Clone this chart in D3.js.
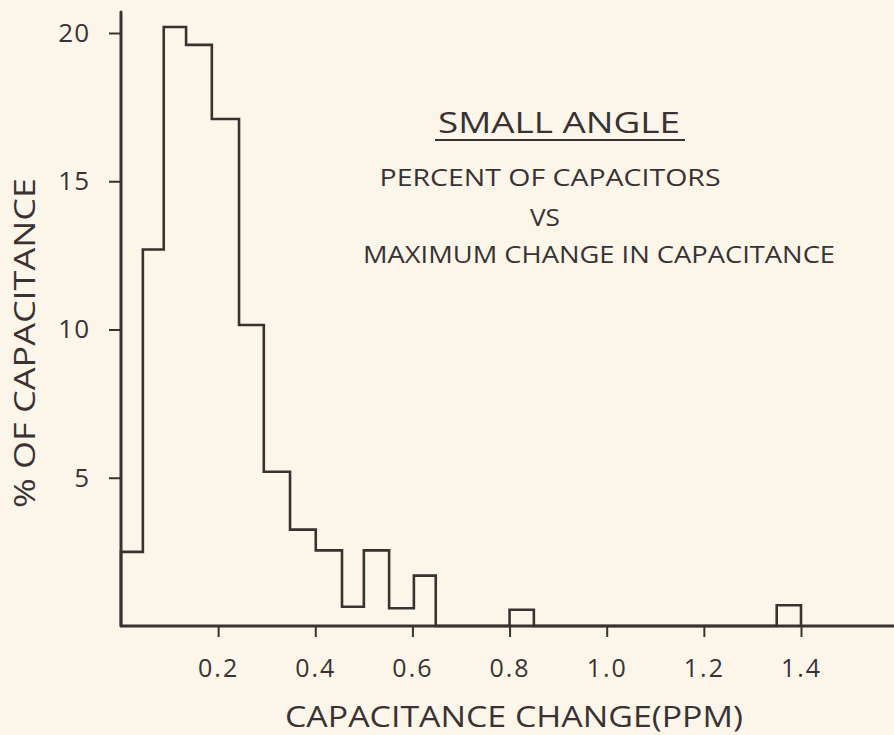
<!DOCTYPE html>
<html>
<head>
<meta charset="utf-8">
<script src="https://cdn.jsdelivr.net/npm/d3@7"></script>
<style>
  html, body { margin: 0; padding: 0; background: #fcf6ea; }
  svg { display: block; }
  text { font-family: "Open Sans", "DejaVu Sans", sans-serif; font-weight: 400; fill: #3a3232; }
</style>
</head>
<body>
<svg id="chart" width="894" height="735"></svg>
<script>
// Histogram bin boundaries (ppm) and the percent of capacitors in each bin
const binEdges = [0, 0.045, 0.088, 0.134, 0.187, 0.243, 0.294, 0.348, 0.401, 0.455,
                  0.5, 0.552, 0.603, 0.648, 0.8, 0.85, 1.35, 1.4];
const percents = [2.5, 12.7, 20.2, 19.6, 17.1, 10.15, 5.2, 3.25, 2.55, 0.65,
                  2.55, 0.6, 1.7, 0, 0.55, 0, 0.7];

const xTicks = [0.2, 0.4, 0.6, 0.8, 1.0, 1.2, 1.4];
const xTickLabels = ["0.2", "0.4", "0.6", "0.8", "1.0", "1.2", "1.4"];
const yTicks = [5, 10, 15, 20];
const yTickLabels = ["5", "10", "15", "20"];

const titleLines = ["PERCENT OF CAPACITORS", "VS", "MAXIMUM CHANGE IN CAPACITANCE"];

const ink = "#3a3131";
const svg = d3.select("#chart");

const x = d3.scaleLinear().domain([0, 1.4]).range([121, 801]);
const y = d3.scaleLinear().domain([0, 20]).range([626, 33]);
const xMax = x.invert(894);
const yMax = y.invert(12);

// x axis
const xAxis = d3.axisBottom(x)
  .tickValues(xTicks)
  .tickFormat((d, i) => xTickLabels[i])
  .tickSizeInner(11).tickSizeOuter(0).tickPadding(22);
const gx = svg.append("g").attr("transform", `translate(0,${y(0)})`).call(xAxis);
gx.select(".domain").remove();
gx.selectAll(".tick line").attr("stroke", ink).attr("stroke-width", 2);
gx.selectAll(".tick text").attr("font-size", 25).attr("fill", "#3a3232")
  .attr("font-family", "Open Sans").attr("letter-spacing", 2);
svg.append("line")
  .attr("x1", x(0)).attr("x2", x(xMax)).attr("y1", y(0)).attr("y2", y(0))
  .attr("stroke", ink).attr("stroke-width", 3);

// y axis
const yAxis = d3.axisLeft(y)
  .tickValues(yTicks)
  .tickFormat((d, i) => yTickLabels[i])
  .tickSizeInner(12).tickSizeOuter(0).tickPadding(19);
const gy = svg.append("g").attr("transform", `translate(${x(0)},0)`).call(yAxis);
gy.select(".domain").remove();
gy.selectAll(".tick line").attr("stroke", ink).attr("stroke-width", 2);
gy.selectAll(".tick text").attr("font-size", 26).attr("fill", "#3a3232")
  .attr("font-family", "Open Sans").attr("letter-spacing", 1);
svg.append("line")
  .attr("x1", x(0)).attr("x2", x(0)).attr("y1", y(0)).attr("y2", y(yMax))
  .attr("stroke", ink).attr("stroke-width", 3).attr("stroke-linecap", "round");

// histogram outline as a step line
const steps = binEdges.map((e, i) => [e, i < percents.length ? percents[i] : 0]);
steps.unshift([0, 0]);
const stepLine = d3.line()
  .x(d => x(d[0]))
  .y(d => y(d[1]))
  .curve(d3.curveStepAfter);
svg.append("path")
  .attr("d", stepLine(steps))
  .attr("fill", "none")
  .attr("stroke", ink)
  .attr("stroke-width", 2.6)
  .attr("stroke-linejoin", "miter");

// axis titles
svg.append("text")
  .attr("x", 514).attr("y", 727)
  .attr("text-anchor", "middle")
  .attr("font-size", 29)
  .attr("textLength", 458).attr("lengthAdjust", "spacingAndGlyphs")
  .text("CAPACITANCE  CHANGE(PPM)");

svg.append("text")
  .attr("transform", "translate(35,343) rotate(-90)")
  .attr("text-anchor", "middle")
  .attr("font-size", 30)
  .attr("textLength", 330).attr("lengthAdjust", "spacingAndGlyphs")
  .text("% OF CAPACITANCE");

// chart heading
svg.append("text")
  .attr("x", 559).attr("y", 133)
  .attr("text-anchor", "middle")
  .attr("font-size", 29)
  .attr("textLength", 242).attr("lengthAdjust", "spacingAndGlyphs")
  .text("SMALL ANGLE");
svg.append("line")
  .attr("x1", 435).attr("x2", 685).attr("y1", 140).attr("y2", 140)
  .attr("stroke", ink).attr("stroke-width", 2);

const lineLayout = [
  { x: 550, y: 186, w: 341, size: 23 },
  { x: 545, y: 226, w: 30, size: 23 },
  { x: 599, y: 263, w: 472, size: 24 }
];
titleLines.forEach((t, i) => {
  svg.append("text")
    .attr("x", lineLayout[i].x).attr("y", lineLayout[i].y)
    .attr("text-anchor", "middle")
    .attr("font-size", lineLayout[i].size)
    .attr("textLength", lineLayout[i].w).attr("lengthAdjust", "spacingAndGlyphs")
    .text(t);
});
</script>
</body>
</html>
